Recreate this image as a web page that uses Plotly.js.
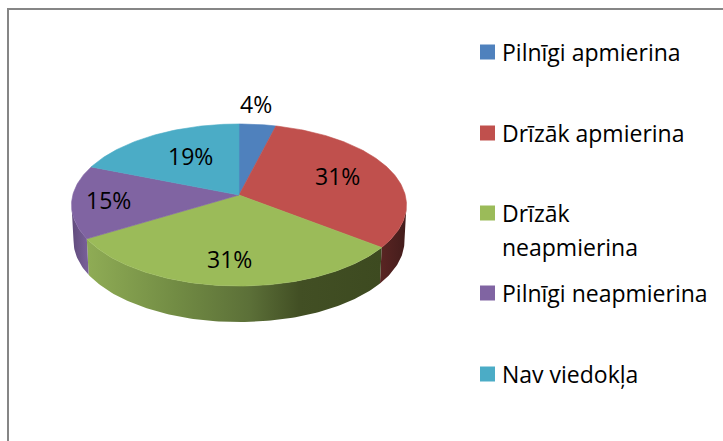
<!DOCTYPE html>
<html><head><meta charset="utf-8">
<script src="https://cdn.plot.ly/plotly-3.0.1.min.js"></script>
<style>html,body{margin:0;padding:0;background:#fff}#c{width:723px;height:441px}</style>
</head><body><div id="c"></div>
<script>
const categories = ['Pilnīgi apmierina','Drīzāk apmierina','Drīzāk neapmierina','Pilnīgi neapmierina','Nav viedokļa'];
const values = [4,31.4,31,14.6,19];
const percentLabels = ['4%','31%','31%','15%','19%'];
const colors = ['#4f81bd','#c0504d','#9bbb59','#8064a2','#4bacc6'];

// legend layout (pixel coordinates of the figure)
const legendLines = [['Pilnīgi apmierina'],['Drīzāk apmierina'],['Drīzāk','neapmierina'],['Pilnīgi neapmierina'],['Nav viedokļa']];
const legendY = [52,133,213,293,374];
const legendLineGap = 34;
const legendMarkerX = 487.5, legendTextX = 499.5;
const font = 'Open Sans, sans-serif';
const labelSize = 23, legendSize = 23;

// projection of the tilted disc
const cx = 239, cy = 195, S = 166.2, T = 79.8, K = 0.1235, depth = 36, shrink = 0.988;
const labelRadius = [1.33,0.66,0.73,0.78,0.6];
const labelTurn = [-2.1,-3,1,0,3];

function project(deg, r){
  const t = deg*Math.PI/180, u = r*Math.sin(t), v = r*Math.cos(t), w = 1+K*v;
  return [cx+S*u/w, cy-T*v/w];
}
function arc(a,b){
  const pts=[]; const n=Math.max(2,Math.ceil(Math.abs(b-a)));
  for(let i=0;i<=n;i++) pts.push(project(a+(b-a)*i/n,1));
  return pts;
}
const total = values.reduce((a,b)=>a+b,0);
const edges=[0]; values.forEach(v=>edges.push(edges[edges.length-1]+v/total*360));

const traces=[];
// side wall: visible between the horizontal extremes of the rim
const wallFrom = 97, wallTo = 263;
const wallScales = [
  null,
  [[0,'#5a2523'],[1,'#431c1b']],
  [[0,'#8fac55'],[0.3,'#728c44'],[0.55,'#5c7038'],[0.72,'#424f24'],[1,'#3d4a20']],
  [[0,'#604b7b'],[1,'#7a619b']],
  null
];
values.forEach((v,i)=>{
  const a=Math.max(edges[i],wallFrom), b=Math.min(edges[i+1],wallTo);
  if(b<=a||!wallScales[i]) return;
  const top=arc(a,b);
  const bottom=top.slice().reverse().map(p=>[cx+(p[0]-cx)*shrink,p[1]+depth]);
  const pts=top.concat(bottom); pts.push(top[0]);
  const xs=pts.map(p=>p[0]);
  traces.push({type:'scatter',mode:'lines',x:xs,y:pts.map(p=>p[1]),fill:'toself',
    line:{width:0},hoverinfo:'skip',showlegend:false,
    fillgradient:{type:'horizontal',colorscale:wallScales[i],start:Math.min(...xs),stop:Math.max(...xs)}});
});
// top face
values.forEach((v,i)=>{
  const pts=[[cx,cy]].concat(arc(edges[i],edges[i+1])); pts.push([cx,cy]);
  traces.push({type:'scatter',mode:'lines',x:pts.map(p=>p[0]),y:pts.map(p=>p[1]),fill:'toself',
    fillcolor:colors[i],line:{width:0.6,color:colors[i]},name:categories[i],showlegend:false,hoverinfo:'name'});
});
// legend swatches
traces.push({type:'scatter',mode:'markers',x:legendY.map(()=>legendMarkerX),y:legendY,
  marker:{symbol:'square',size:15,color:colors,line:{width:0}},hoverinfo:'skip',showlegend:false});

const annotations=[];
values.forEach((v,i)=>{
  const p=project((edges[i]+edges[i+1])/2+labelTurn[i],labelRadius[i]);
  annotations.push({x:p[0],y:p[1],text:percentLabels[i],showarrow:false,xanchor:'center',yanchor:'middle',
    font:{family:font,size:labelSize,color:'#000'}});
});
legendLines.forEach((lines,i)=>lines.forEach((t,j)=>{
  annotations.push({x:legendTextX,y:legendY[i]-0.5+j*legendLineGap,text:t,showarrow:false,xanchor:'left',yanchor:'middle',
    font:{family:font,size:legendSize,color:'#000'}});
}));

Plotly.newPlot('c',traces,{
  width:723,height:441,margin:{l:0,r:0,t:0,b:0,pad:0},
  paper_bgcolor:'#fff',plot_bgcolor:'#fff',showlegend:false,
  xaxis:{range:[0,723],visible:false,fixedrange:true},
  yaxis:{range:[441,0],visible:false,fixedrange:true},
  annotations,
  shapes:[
    {type:'line',x0:8,x1:8,y0:8,y1:441,line:{color:'#868686',width:2}},
    {type:'line',x0:7,x1:723,y0:9,y1:9,line:{color:'#868686',width:2}}
  ]
},{displayModeBar:false,staticPlot:true});
</script></body></html>
